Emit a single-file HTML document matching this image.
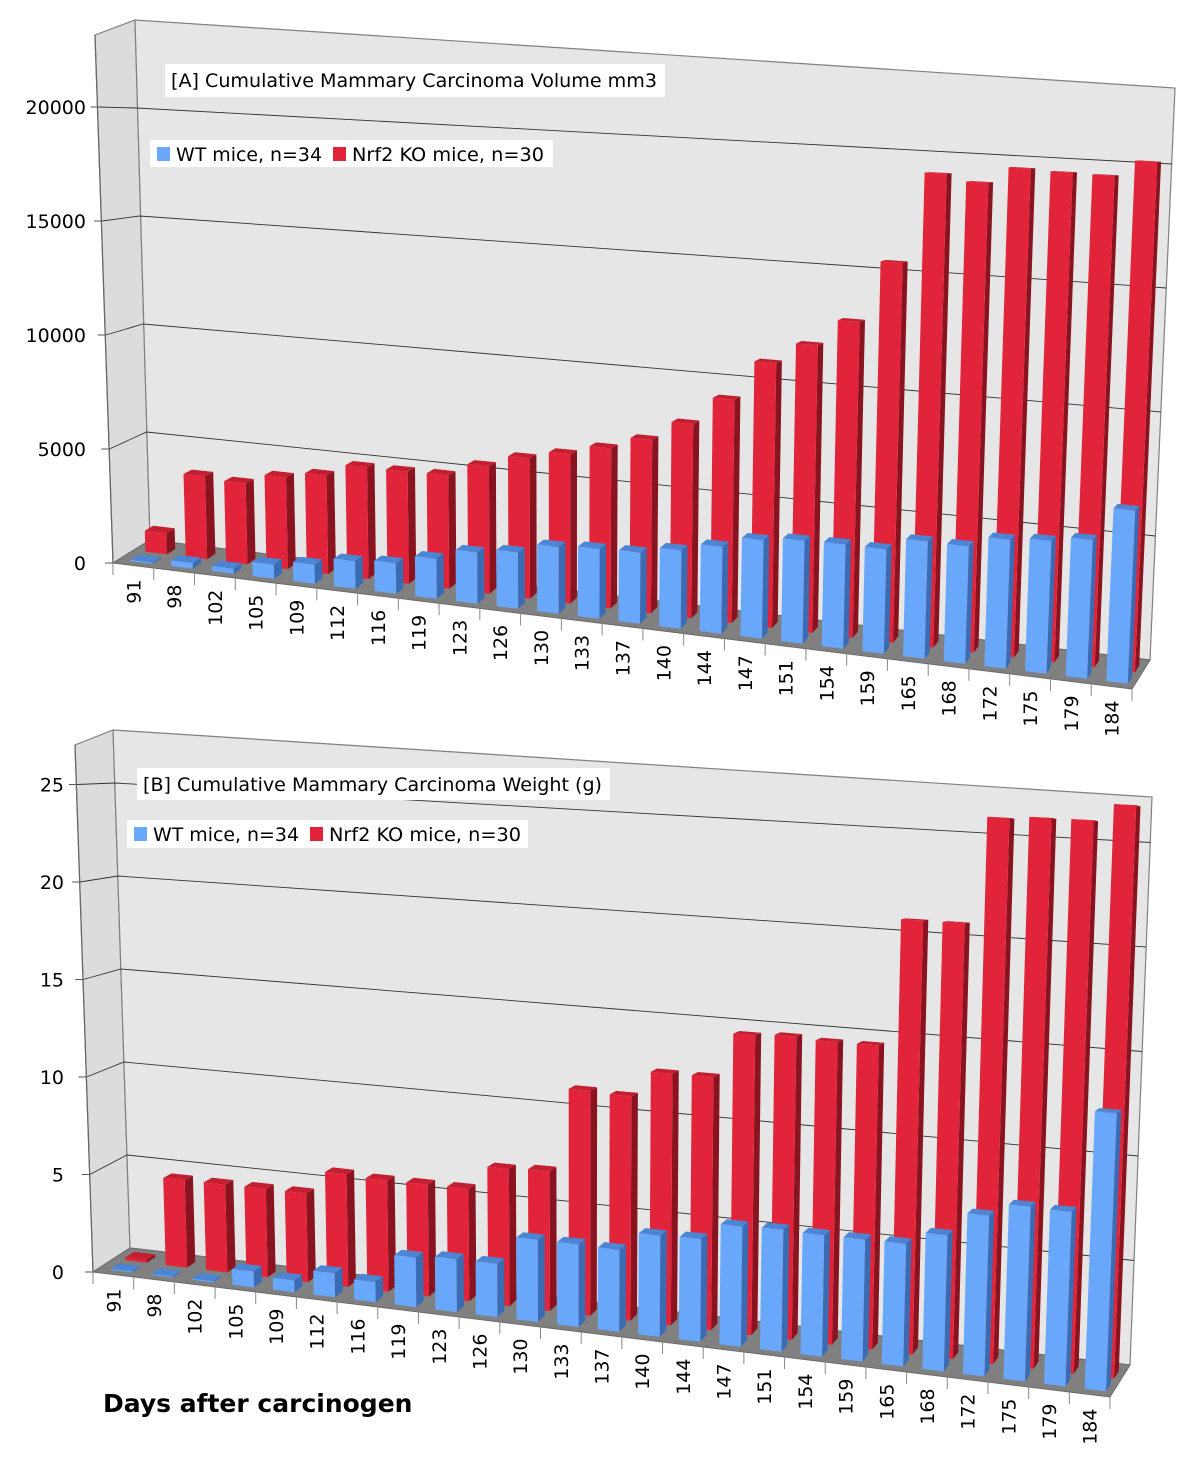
<!DOCTYPE html>
<html><head><meta charset="utf-8"><style>
html,body{margin:0;padding:0;background:#fff;}
svg{display:block;}
text{font-family:"DejaVu Sans","Liberation Sans",sans-serif;}
</style></head>
<body>
<svg id="chart" width="1200" height="1458" viewBox="0 0 1200 1458" xmlns="http://www.w3.org/2000/svg">
  <g id="chartA"></g>
  <g id="chartB"></g>
  <text x="103" y="1412" font-size="25" font-weight="bold" fill="#000">Days after carcinogen</text>
</svg>
<script>
const categories = ["91","98","102","105","109","112","116","119","123","126","130","133","137","140","144","147","151","154","159","165","168","172","175","179","184"];
const volumeWT = [50,250,220,610,820,1170,1290,1690,2150,2350,2770,2880,2920,3200,3530,3980,4140,4170,4150,4640,4620,5050,5170,5370,6670];
const volumeKO = [950,3710,3590,4050,4330,4870,4870,4890,5460,5980,6330,6750,7270,8100,9270,10930,11810,12900,15430,19150,18880,19550,19480,19450,20090];
const weightWT = [0.05,0.05,0.05,0.8,0.6,1.2,1.0,2.45,2.6,2.6,4.0,4.0,3.95,4.85,4.9,5.7,5.75,5.7,5.7,5.7,6.3,7.4,8.0,7.95,12.6];
const weightKO = [0.15,4.55,4.55,4.55,4.55,5.75,5.65,5.65,5.65,6.85,6.95,11.15,11.05,12.35,12.35,14.55,14.65,14.55,14.55,20.65,20.65,25.75,25.85,25.85,26.65];
const ticksA = [0,5000,10000,15000,20000];
const ticksB = [0,5,10,15,20,25];

const NS = "http://www.w3.org/2000/svg";
function mk(parent, tag, attrs){
  const e = document.createElementNS(NS, tag);
  for (const k in attrs) e.setAttribute(k, attrs[k]);
  parent.appendChild(e);
  return e;
}
function lerp(a,b,t){return a+(b-a)*t;}

function buildChart(g, cfg, wt, ko, ticks){
  const n = categories.length;
  function P(t,d,v){
    const bx = lerp(lerp(cfg.FL[0],cfg.FR[0],t), lerp(cfg.BL[0],cfg.BR[0],t), d);
    const by = lerp(lerp(cfg.FL[1],cfg.FR[1],t), lerp(cfg.BL[1],cfg.BR[1],t), d);
    const s = lerp(lerp(cfg.sFL,cfg.sFR,t), lerp(cfg.sBL,cfg.sBR,t), d);
    const h = v*s;
    const k = lerp(cfg.kL,cfg.kR,t);
    return [bx + k*h, by - h];
  }
  const pts = a => a.map(p=>p[0].toFixed(1)+","+p[1].toFixed(1)).join(" ");
  const lw = mk(g,"polygon",{points:pts([cfg.FL,cfg.LFT,cfg.LBT,cfg.BL]),fill:"#dcdcdc",stroke:"#808080","stroke-width":1.2});
  
  
  const bw = mk(g,"polygon",{points:pts([cfg.BL,cfg.BR,cfg.RBT,cfg.LBT]),fill:"#e6e6e6",stroke:"#808080","stroke-width":1.2});
  
  
  const fl = mk(g,"polygon",{points:pts([cfg.FL,cfg.FR,cfg.BR,cfg.BL]),fill:"#808080",stroke:"#6a6a6a","stroke-width":1});
  
  
  ticks.forEach(v=>{
    const a=P(0,0,v), b=P(0,1,v), c=P(1,1,v);
    const gl = mk(g,"polyline",{points:pts([a,b,c]),fill:"none",stroke:"#333","stroke-width":v===0?0:0.9});
    
    
    const tk = mk(g,"line",{x1:a[0]-8,y1:a[1],x2:a[0],y2:a[1],stroke:"#555","stroke-width":1});
    
    
    const lb = mk(g,"text",{x:cfg.labelX,y:a[1]+7,"text-anchor":"end","font-size":19,fill:"#000"});
    lb.textContent = String(v);
    
    
  });
  const ax = mk(g,"line",{x1:cfg.FL[0],y1:cfg.FL[1],x2:cfg.LFT[0],y2:cfg.LFT[1],stroke:"#666","stroke-width":1.2});
  
  
  for(let i=0;i<=n;i++){
    const p = P(i/n,0,0);
    const t = mk(g,"line",{x1:p[0],y1:p[1],x2:p[0],y2:p[1]+12,stroke:"#888","stroke-width":1});
    
    
  }
  categories.forEach((c,i)=>{
    const p = P((i+0.5)/n,0,0);
    const x = p[0]+7, y = p[1]+14;
    const lb = mk(g,"text",{x:x,y:y,"text-anchor":"end","font-size":19,fill:"#000",transform:`rotate(-90 ${x.toFixed(1)} ${y.toFixed(1)})`});
    lb.textContent = c;
    
    
  });
  function bar(i,v,d0,d1,cols,name){
    const t0=(i+0.3)/n, t1=(i+0.83)/n;
    const grp = mk(g,"g",{});
    
    
    mk(grp,"polygon",{points:pts([P(t1,d0,0),P(t1,d1,0),P(t1,d1,v),P(t1,d0,v)]),fill:cols[1]});
    mk(grp,"polygon",{points:pts([P(t0,d0,v),P(t1,d0,v),P(t1,d1,v),P(t0,d1,v)]),fill:cols[2]});
    mk(grp,"polygon",{points:pts([P(t0,d0,0),P(t1,d0,0),P(t1,d0,v),P(t0,d0,v)]),fill:cols[0]});
  }
  ko.forEach((v,i)=>bar(i,v,0.55,0.78,["#e1243a","#8a1320","#c41f31"],"bar-ko-"+categories[i]));
  wt.forEach((v,i)=>bar(i,v,0.15,0.38,["#69a7fb","#3a6cb3","#4b85d4"],"bar-wt-"+categories[i]));
  const tb = mk(g,"rect",{x:cfg.title[0],y:cfg.title[1],width:cfg.title[2],height:cfg.title[3],fill:"#fff"});
  
  
  const tt = mk(g,"text",{x:cfg.title[0]+6,y:cfg.title[1]+23,"font-size":19,fill:"#000",textLength:cfg.title[2]-14,lengthAdjust:"spacingAndGlyphs"});
  tt.textContent = cfg.titleText;
  
  
  const L = cfg.legend;
  const lbox = mk(g,"rect",{x:L[0],y:L[1],width:L[2],height:L[3],fill:"#fff"});
  
  
  const s1 = mk(g,"rect",{x:L[0]+7,y:L[1]+7,width:13,height:14,fill:"#69a7fb"});
  
  
  const t1 = mk(g,"text",{x:L[0]+26,y:L[1]+21,"font-size":19,fill:"#000",textLength:146,lengthAdjust:"spacingAndGlyphs"});
  t1.textContent = "WT mice, n=34";
  
  
  const s2 = mk(g,"rect",{x:L[0]+183,y:L[1]+7,width:13,height:14,fill:"#e1243a"});
  
  
  const t2 = mk(g,"text",{x:L[0]+202,y:L[1]+21,"font-size":19,fill:"#000",textLength:192,lengthAdjust:"spacingAndGlyphs"});
  t2.textContent = "Nrf2 KO mice, n=30";
  
  
}

buildChart(document.getElementById("chartA"), {
  FL:[113,563], FR:[1132,689], BL:[150,540], BR:[1150,660],
  LFT:[95,35], LBT:[135,20], RBT:[1175,88],
  sFL:114/5000, sFR:131/5000, sBL:108/5000, sBR:124/5000,
  kL:-0.032, kR:0.044, labelX:86,
  title:[165,64,500,33], titleText:"[A] Cumulative Mammary Carcinoma Volume mm3",
  legend:[150,140,403,27]
}, volumeWT, volumeKO, ticksA);

buildChart(document.getElementById("chartB"), {
  FL:[93,1272], FR:[1110,1397], BL:[130,1248], BR:[1130,1365],
  LFT:[75,745], LBT:[113,730], RBT:[1152,797],
  sFL:19.5, sFR:22.3, sBL:18.6, sBR:20.9,
  kL:-0.033, kR:0.039, labelX:64,
  title:[137,768,473,32], titleText:"[B] Cumulative Mammary Carcinoma Weight (g)",
  legend:[127,820,401,28]
}, weightWT, weightKO, ticksB);
</script>
</body></html>
